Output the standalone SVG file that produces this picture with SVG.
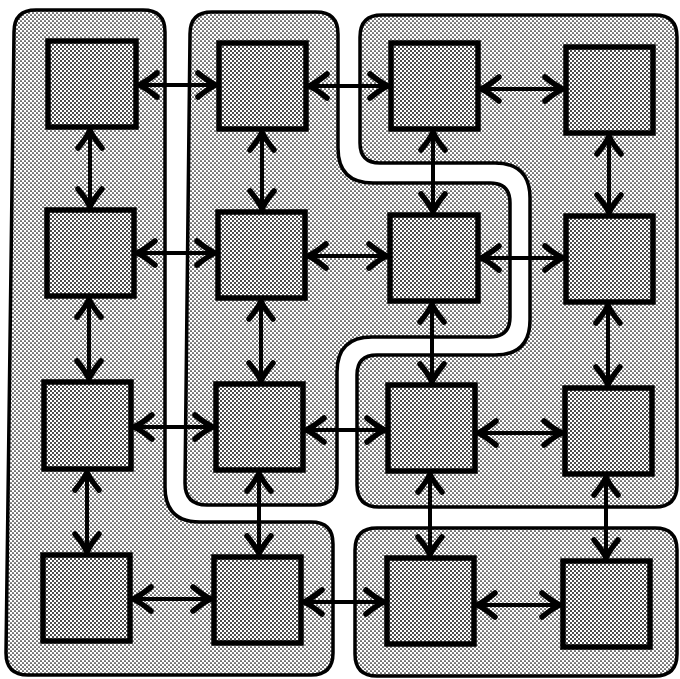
<svg xmlns="http://www.w3.org/2000/svg" width="680" height="679" viewBox="0 0 680 679">
<defs>
<pattern id="dither" width="4" height="4" patternUnits="userSpaceOnUse">
<rect width="4" height="4" fill="#fff"/>
<circle cx="1" cy="1" r="0.85" fill="#000"/>
<circle cx="3" cy="3" r="0.85" fill="#000"/>
</pattern>
<pattern id="dither2" width="4" height="4" patternUnits="userSpaceOnUse">
<rect width="4" height="4" fill="#fff"/>
<circle cx="1" cy="1" r="0.95" fill="#000"/>
<circle cx="3" cy="3" r="0.95" fill="#000"/>
</pattern>
<marker id="ah" markerUnits="userSpaceOnUse" markerWidth="30" markerHeight="30" viewBox="-25 -15 30 30" refX="0" refY="0" orient="auto-start-reverse" overflow="visible">
<path d="M-19,-12 Q-8,-3 -1,0 Q-8,3 -19,12" fill="none" stroke="#000" stroke-width="5.5" stroke-linecap="round" stroke-linejoin="round"/>
</marker>
<style>
.region{fill:url(#dither);stroke:#000;stroke-width:3.5;stroke-linejoin:round}
.node rect{fill:url(#dither2);stroke:#000;stroke-width:5.5}
.conn line{stroke:#000;stroke-width:4;marker-start:url(#ah);marker-end:url(#ah)}
</style>
</defs>
<rect width="680" height="679" fill="#fff"/>
<g id="regions">
<path id="region-left" class="region" d="M36,10 H143 Q165,10 165,32 V487 Q165,522 200,522 H311 Q333,522 333,544 V653 Q333,675 311,675 H28 Q6,675 6,653 L14,32 Q14,10 36,10 Z"/>
<path id="region-middle" class="region" d="M212,12 H316 Q338,12 338,34 V148 Q338,183 373,183 H490 Q510,183 510,203 V317 Q510,337 490,337 H372 Q337,337 337,372 V483 Q337,505 315,505 H207 Q185,505 185,483 L190,34 Q190,12 212,12 Z"/>
<path id="region-right" class="region" d="M382,15 H655 Q677,15 677,37 V485 Q677,507 655,507 H379 Q357,507 357,485 V375 Q357,355 377,355 H495 Q530,355 530,320 V198 Q530,163 495,163 H380 Q360,163 360,143 V37 Q360,15 382,15 Z"/>
<path id="region-bottom-right" class="region" d="M377,528 H655 Q677,528 677,550 V654 Q677,676 655,676 H377 Q355,676 355,654 V550 Q355,528 377,528 Z"/>
</g>
<g id="connectors" class="conn">
<line x1="138" y1="85" x2="217" y2="85"/>
<line x1="308" y1="86" x2="389" y2="86"/>
<line x1="480" y1="89" x2="564" y2="89"/>
<line x1="136" y1="253" x2="216" y2="253"/>
<line x1="307" y1="256" x2="388" y2="256"/>
<line x1="480" y1="258" x2="564" y2="258"/>
<line x1="133" y1="427" x2="214" y2="427"/>
<line x1="305" y1="430" x2="386" y2="430"/>
<line x1="477" y1="433" x2="563" y2="433"/>
<line x1="132" y1="599" x2="212" y2="599"/>
<line x1="303" y1="602" x2="385" y2="602"/>
<line x1="476" y1="605" x2="561" y2="605"/>
<line x1="90" y1="129" x2="90" y2="208"/>
<line x1="89" y1="298" x2="89" y2="380"/>
<line x1="87" y1="471" x2="87" y2="553"/>
<line x1="262" y1="131" x2="262" y2="210"/>
<line x1="261" y1="300" x2="261" y2="382"/>
<line x1="259" y1="472" x2="259" y2="555"/>
<line x1="433" y1="131" x2="433" y2="213"/>
<line x1="432" y1="303" x2="432" y2="383"/>
<line x1="430" y1="473" x2="430" y2="556"/>
<line x1="609" y1="135" x2="609" y2="214"/>
<line x1="608" y1="304" x2="608" y2="386"/>
<line x1="606" y1="476" x2="606" y2="559"/>
</g>
<g id="n11" class="node"><rect x="48" y="41" width="88" height="86"/></g>
<g id="n12" class="node"><rect x="219" y="43" width="87" height="86"/></g>
<g id="n13" class="node"><rect x="391" y="43" width="87" height="86"/></g>
<g id="n14" class="node"><rect x="566" y="47" width="87" height="86"/></g>
<g id="n21" class="node"><rect x="47" y="210" width="87" height="86"/></g>
<g id="n22" class="node"><rect x="218" y="212" width="87" height="86"/></g>
<g id="n23" class="node"><rect x="390" y="215" width="88" height="86"/></g>
<g id="n24" class="node"><rect x="566" y="216" width="87" height="86"/></g>
<g id="n31" class="node"><rect x="44" y="382" width="87" height="87"/></g>
<g id="n32" class="node"><rect x="216" y="384" width="87" height="86"/></g>
<g id="n33" class="node"><rect x="388" y="385" width="87" height="86"/></g>
<g id="n34" class="node"><rect x="565" y="388" width="87" height="86"/></g>
<g id="n41" class="node"><rect x="43" y="555" width="87" height="86"/></g>
<g id="n42" class="node"><rect x="214" y="557" width="87" height="86"/></g>
<g id="n43" class="node"><rect x="387" y="558" width="87" height="86"/></g>
<g id="n44" class="node"><rect x="563" y="561" width="87" height="86"/></g>
</svg>
